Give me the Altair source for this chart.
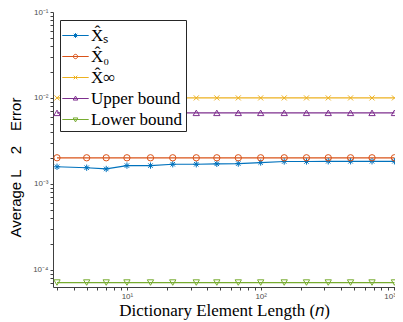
import altair as alt
import pandas as pd

n_values = [3, 5, 7, 10, 15, 22, 33, 47, 68, 100, 150, 220, 320, 470, 680, 1000]
xs_err = [0.00158, 0.00154, 0.00149, 0.00163, 0.00163, 0.00169, 0.00169, 0.00171,
          0.00172, 0.00177, 0.00182, 0.00182, 0.00183, 0.00183, 0.00183, 0.00183]
x0_err = [0.00201, 0.00201, 0.00201, 0.00201, 0.00201, 0.00201, 0.00201, 0.00201,
          0.00201, 0.00201, 0.00201, 0.00201, 0.00201, 0.00201, 0.00201, 0.00201]
xinf_err = [0.0100, 0.0100, 0.0100, 0.0100, 0.0100, 0.0100, 0.0100, 0.0100,
            0.0100, 0.0100, 0.0100, 0.0100, 0.0100, 0.0100, 0.0100, 0.0100]
upper_err = [0.0067, 0.0067, 0.0067, 0.0067, 0.0067, 0.0067, 0.0067, 0.0067,
             0.0067, 0.0067, 0.0067, 0.0067, 0.0067, 0.0067, 0.0067, 0.0067]
lower_err = [7.1e-5, 7.1e-5, 7.1e-5, 7.1e-5, 7.1e-5, 7.1e-5, 7.1e-5, 7.1e-5,
             7.1e-5, 7.1e-5, 7.1e-5, 7.1e-5, 7.1e-5, 7.1e-5, 7.1e-5, 7.1e-5]

series_names = ["X\u0302\u209b", "X\u0302\u2080", "X\u0302\u221e", "Upper bound", "Lower bound"]
series_colors = ["#0072BD", "#D95319", "#EDB120", "#7E2F8E", "#77AC30"]

x_ticks = [3, 4, 5, 6, 7, 8, 9, 10, 20, 30, 40, 50, 60, 70, 80, 90, 100,
           200, 300, 400, 500, 600, 700, 800, 900, 1000]
x_labels = {10: "10\u00b9", 100: "10\u00b2", 1000: "10\u00b3"}
y_ticks = [7e-5, 8e-5, 9e-5, 1e-4, 2e-4, 3e-4, 4e-4, 5e-4, 6e-4, 7e-4, 8e-4, 9e-4,
           1e-3, 2e-3, 3e-3, 4e-3, 5e-3, 6e-3, 7e-3, 8e-3, 9e-3,
           1e-2, 2e-2, 3e-2, 4e-2, 5e-2, 6e-2, 7e-2, 8e-2, 9e-2, 1e-1]
y_labels = {1e-4: "10\u207b\u2074", 1e-3: "10\u207b\u00b3", 1e-2: "10\u207b\u00b2", 1e-1: "10\u207b\u00b9"}

rows = []
for name, vals in zip(series_names, [xs_err, x0_err, xinf_err, upper_err, lower_err]):
    for n, v in zip(n_values, vals):
        rows.append({"n": n, "err": v, "series": name})
df = pd.DataFrame(rows)


def label_expr(mapping):
    expr = "''"
    for k, v in mapping.items():
        expr = f"abs(datum.value - {k!r}) < {k!r} * 1e-6 ? '{v}' : " + expr
    return expr


point_shapes = [
    "M-1,0H1M0,-1V1M-0.7,-0.7L0.7,0.7M-0.7,0.7L0.7,-0.7",
    "circle",
    "M-0.8,-0.8L0.8,0.8M-0.8,0.8L0.8,-0.8",
    "triangle-up",
    "triangle-down",
]
L = "M-1.1,0H1.1"
legend_shapes = [
    L + "M-0.2,0H0.2M0,-0.2V0.2M-0.14,-0.14L0.14,0.14M-0.14,0.14L0.14,-0.14",
    L + "M0.18,0A0.18,0.18,0,1,1,-0.18,0A0.18,0.18,0,1,1,0.18,0",
    L + "M-0.15,-0.15L0.15,0.15M-0.15,0.15L0.15,-0.15",
    L + "M0,-0.2L0.19,0.13L-0.19,0.13Z",
    L + "M0,0.2L0.19,-0.13L-0.19,-0.13Z",
]

color_scale = alt.Scale(domain=series_names, range=series_colors)

x_enc = alt.X(
    "n:Q",
    scale=alt.Scale(type="log", domain=[2.8, 1010], nice=False),
    axis=alt.Axis(
        values=x_ticks, labelExpr=label_expr(x_labels), grid=False,
        tickSize=3, labelFontSize=8, labelFont="Liberation Sans", labelColor="#4d4d4d",
        domainColor="#404040", tickColor="#404040", labelOverlap=False,
        labelFlush=3, labelFlushOffset=1,
        labelPadding=2,
        title="Dictionary Element Length (\U0001D45B)", titleFont="Liberation Serif",
        titleFontSize=17, titleFontWeight="normal", titleColor="black",
        titleY=28, titleBaseline="alphabetic",
    ),
)
y_enc = alt.Y(
    "err:Q",
    scale=alt.Scale(type="log", domain=[6.3e-5, 0.1], nice=False),
    axis=alt.Axis(
        values=y_ticks, labelExpr=label_expr(y_labels), grid=False,
        tickSize=3, labelFontSize=8, labelFont="Liberation Sans", labelColor="#4d4d4d",
        domainColor="#404040", tickColor="#404040", labelOverlap=False, labelFlush=False,
        labelPadding=2,
        title="Average L\u2002\u20022\u2002\u2002Error", titleFont="Liberation Sans",
        titleFontSize=15, titleFontWeight="normal", titleColor="black",
        titleX=-33, titleY=155, titleBaseline="alphabetic",
    ),
)

base = alt.Chart(df).encode(x=x_enc, y=y_enc)

lines = base.mark_line(strokeWidth=1.2, opacity=1).encode(
    color=alt.Color("series:N", scale=color_scale, legend=None)
)
points = base.mark_point(filled=False, size=40, strokeWidth=1, opacity=1).encode(
    color=alt.Color("series:N", scale=color_scale, legend=None),
    shape=alt.Shape("series:N", scale=alt.Scale(domain=series_names, range=point_shapes), legend=None),
)

legend_def = alt.Legend(
    title=None, orient="none", legendX=7, legendY=8,
    strokeColor="#262626", fillColor="white", padding=3,
    symbolSize=576, symbolStrokeWidth=1,
    labelFont="Liberation Serif", labelFontSize=17, labelColor="black",
    rowPadding=0, labelOffset=3,
)
legend_layer = base.mark_point(filled=False, strokeWidth=1, opacity=1).encode(
    color=alt.Color("series:N", scale=color_scale, legend=legend_def),
    shape=alt.Shape("series:N", scale=alt.Scale(domain=series_names, range=legend_shapes), legend=legend_def),
).transform_filter("false")

chart = (
    alt.layer(lines, points, legend_layer)
    .resolve_scale(color="independent", shape="independent")
    .properties(
        width=342, height=275,
        autosize=alt.AutoSizeParams(type="none"),
        padding={"left": 45, "top": 4, "right": 0, "bottom": 34},
    )
    .configure_view(stroke=None)
)

chart.save("out.html", embed_options={"renderer": "svg", "actions": False})
